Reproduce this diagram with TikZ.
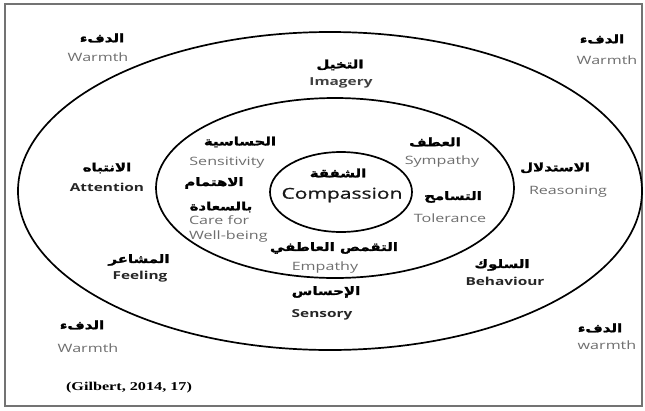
\documentclass[tikz,border=0pt]{standalone}
\usepackage{fontspec}
\setmainfont[FakeStretch=1.4]{Open Sans}
\newfontfamily\corefont[FakeStretch=1.4,FakeBold=0.9]{Open Sans}
\newfontfamily\arabicfont[Script=Arabic,FakeStretch=1.3,BoldFeatures={FakeBold=1.6}]{DejaVu Sans}
\newfontfamily\citefont[FakeStretch=1.35]{Liberation Serif}
\TeXXeTstate=1
\newcommand\rtl[1]{\beginR#1\endR}
\definecolor{labelgrey}{HTML}{6E6E6E}
\definecolor{labeldark}{HTML}{262626}
\begin{document}
\begin{tikzpicture}[x=1pt,y=-1pt,
  every node/.style={inner sep=0pt,outer sep=0pt},
  ring/.style={draw=black,line width=1.7pt},
  ar/.style={font=\arabicfont\bfseries\fontsize{11.5}{13}\selectfont,text=black},
  soft/.style={font=\fontsize{11.5}{13}\selectfont,text=labelgrey},
  strong/.style={font=\bfseries\fontsize{11}{13}\selectfont,text=labeldark},
  core/.style={font=\corefont\fontsize{15}{17}\selectfont,text=black!90},
  cite/.style={font=\citefont\bfseries\fontsize{12}{14}\selectfont,text=black}]
\useasboundingbox (0,0) rectangle (645,410);
% frame
\draw[black!55,line width=2pt] (4.5,4) rectangle (641.5,406);
% three nested rings
\draw[ring] (330,191) ellipse [x radius=312,y radius=159];
\draw[ring] (335,188) ellipse [x radius=179,y radius=90];
\draw[ring] (341,192) ellipse [x radius=71,y radius=40];

% warmth in the four corners
\node[ar]   (wtlA) at (102,38) {\rtl{الدفء}};
\node[soft] (wtlE) at (98,57)  {Warmth};
\node[ar]   (wtrA) at (602,39) {\rtl{الدفء}};
\node[soft] (wtrE) at (607,60) {Warmth};
\node[ar]   (wblA) at (82,325) {\rtl{الدفء}};
\node[soft] (wblE) at (88,348) {Warmth};
\node[ar]   (wbrA) at (600,328) {\rtl{الدفء}};
\node[soft] (wbrE) at (607,345) {warmth};

% outer ring
\node[ar]     (imgA) at (340,65)  {\rtl{التخيل}};
\node[strong,text=black!75] (imgE) at (341,83) {Imagery};
\node[ar]     (attA) at (107,168) {\rtl{الانتباه}};
\node[strong] (attE) at (107,187) {Attention};
\node[ar]     (reaA) at (555,168) {\rtl{الاستدلال}};
\node[soft]   (reaE) at (568,192) {Reasoning};
\node[ar]     (feeA) at (139,260) {\rtl{المشاعر}};
\node[strong] (feeE) at (140,277) {Feeling};
\node[ar]     (behA) at (502,265) {\rtl{السلوك}};
\node[strong] (behE) at (505,281) {Behaviour};
\node[ar]     (senA) at (326,292) {\rtl{الإحساس}};
\node[strong] (senE) at (322,315) {Sensory};

% middle ring
\node[ar]   (sitA) at (240,142) {\rtl{الحساسية}};
\node[soft] (sitE) at (227,163) {Sensitivity};
\node[ar]   (symA) at (435,142) {\rtl{العطف}};
\node[soft] (symE) at (442,162) {Sympathy};
\node[ar]   (carA) at (214,183) {\rtl{الاهتمام}};
\node[ar]   (carB) at (221,207) {\rtl{بالسعادة}};
\node[soft,anchor=west] (carE) at (189,220) {Care for};
\node[soft,anchor=west] (carF) at (189,237) {Well-being};
\node[ar]   (tolA) at (453,197) {\rtl{التسامح}};
\node[soft] (tolE) at (450,218) {Tolerance};
\node[ar]   (empA) at (334,248) {\rtl{التقمص العاطفي}};
\node[soft] (empE) at (325,268) {Empathy};

% core
\node[ar]   (comA) at (338,173) {\rtl{الشفقة}};
\node[core] (comE) at (342,195) {Compassion};

% source
\node[cite] (src) at (129,388) {(Gilbert, 2014, 17)};
\end{tikzpicture}
\end{document}
